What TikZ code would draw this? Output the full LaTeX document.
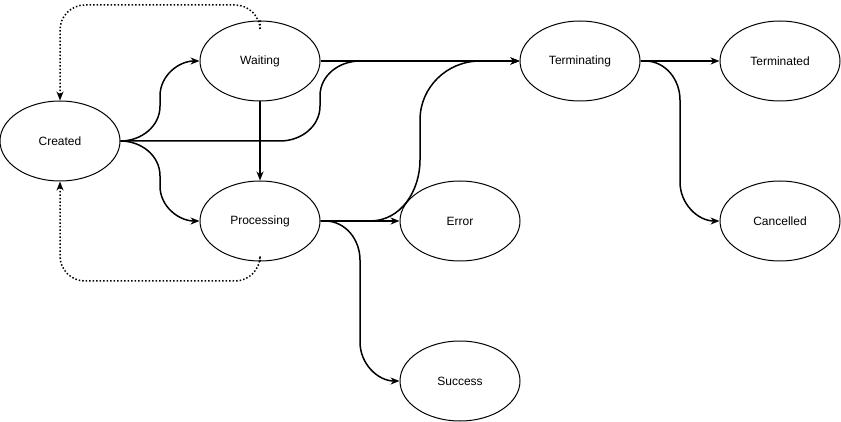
\documentclass[tikz,border=0pt]{standalone}
\usepackage{fontspec}
\setmainfont{Liberation Sans}
\usetikzlibrary{arrows.meta,shapes.geometric}
\begin{document}
\begin{tikzpicture}[x=1pt,y=-1pt,
 st/.style={draw,ellipse,line width=1pt,minimum width=120pt,minimum height=80pt,inner sep=0pt,font=\fontsize{12}{14}\selectfont},
 ar/.style={line width=1.5pt,-{Stealth[length=9pt,width=7pt]}},
 dt/.style={ar,dotted,rounded corners=25pt}]
\useasboundingbox (0,0) rectangle (841,422);
\node[st] (C) at (60,141) {Created};
\node[st] (W) at (260,61) {Waiting};
\node[st] (P) at (260,221) {Processing};
\node[st] (T) at (580,61) {Terminating};
\node[st] (Td) at (780,61) {Terminated};
\node[st] (Ca) at (780,221) {Cancelled};
\node[st] (E) at (460,221) {Error};
\node[st] (S) at (460,381) {Success};
\draw[ar] (C.east) to[out=0,in=-90] (160,106) -- (160,96) to[out=90,in=180] (W.west);
\draw[ar] (C.east) to[out=0,in=90] (160,176) -- (160,186) to[out=-90,in=180] (P.west);
\draw[ar] (C.east) -- (280,141) to[out=0,in=-90] (320,106) -- (320,96) to[out=90,in=180] (360,61) -- (T.west);
\draw[ar] (W.east) -- (T.west);
\draw[ar] (W.south) -- (P.north);
\draw[dt] (W.north) -- (260,5) -| (C.north);
\draw[dt] (P.south) -- (260,281) -| (C.south);
\draw[ar] (P.east) -- (E.west);
\draw[ar] (P.east) -- (370,221) to[out=0,in=-90] (420,160) -- (420,120) to[out=90,in=180] (480,61) -- (T.west);
\draw[ar] (P.east) -- (325,221) to[out=0,in=90] (360,260) -- (360,342) to[out=-90,in=180] (S.west);
\draw[ar] (T.east) -- (Td.west);
\draw[ar] (T.east) -- (645,61) to[out=0,in=90] (680,100) -- (680,182) to[out=-90,in=180] (Ca.west);
\end{tikzpicture}
\end{document}
